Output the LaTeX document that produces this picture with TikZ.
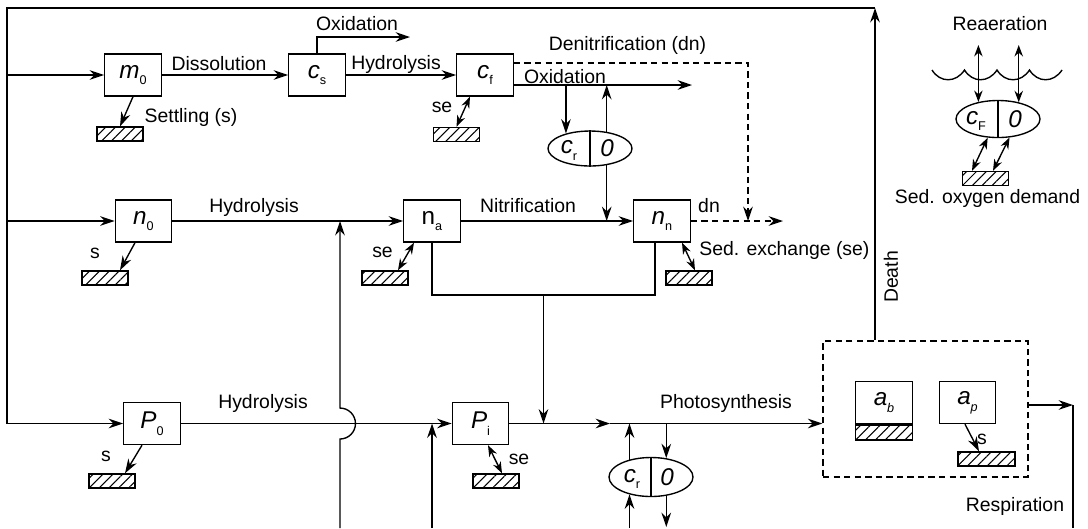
\documentclass[tikz,border=0pt]{standalone}
\usepackage{fontspec}
\setmainfont{Liberation Sans}
\usetikzlibrary{arrows.meta,positioning,calc,shapes.geometric,patterns.meta}
\tikzset{
  flowln/.style={-{Stealth[length=2.4mm,width=1.6mm]}, line width=0.65pt},
  plainln/.style={line width=0.65pt},
  dblln/.style={{Stealth[length=1.9mm,width=1.4mm]}-{Stealth[length=1.9mm,width=1.4mm]}, line width=0.65pt},
  dashln/.style={dash pattern=on 3pt off 2pt, line width=0.65pt},
  pool/.style={draw, line width=0.65pt, minimum width=0.94cm, minimum height=0.7cm,
    inner sep=0pt, font=\fontsize{11.5}{13}\selectfont},
  sedbox/.style={draw, line width=0.65pt, minimum width=0.77cm, minimum height=0.235cm,
    inner sep=0pt, pattern={Lines[angle=45,distance=3.3pt,line width=0.5pt]}},
  oxy/.style={ellipse, draw, line width=0.65pt, minimum width=1.4cm, inner sep=0pt},
  var/.style={font=\fontsize{11.5}{13}\selectfont, inner sep=0pt},
  lbl/.style={font=\fontsize{9.2}{11}\selectfont, inner sep=0pt, anchor=base},
}
\newcommand{\sv}[2]{#1\raisebox{-3.2pt}{\fontsize{6}{7}\selectfont #2}}

\begin{document}
\begin{tikzpicture}[x=0.16667cm, y=-0.16667cm]
    \useasboundingbox (0,0) rectangle (108.8,52.8);
    % pools
    \node[pool] (m0) at (13.3,7.5) {\sv{\textit{m}}{0}};
    \node[pool] (cs) at (31.7,7.5) {\sv{\textit{c}}{s}};
    \node[pool] (cf) at (48.5,7.5) {\sv{\textit{c}}{f}};
    \node[pool] (n0) at (14.35,22.1) {\sv{\textit{n}}{0}};
    \node[pool] (na) at (43.2,22.1) {\sv{n}{a}};
    \node[pool] (nn) at (66.2,22.1) {\sv{\textit{n}}{n}};
    \node[pool] (p0) at (15.2,42.35) {\sv{\textit{P}}{0}};
    \node[pool] (pi) at (48.05,42.35) {\sv{\textit{P}}{i}};
    % sediment
    \node[sedbox] (sm0) at (12,13.4) {};
    \node[sedbox] (scf) at (45.65,13.45) {};
    \node[sedbox] (sn0) at (10.5,27.8) {};
    \node[sedbox] (sna) at (38.5,27.8) {};
    \node[sedbox] (snn) at (68.9,27.8) {};
    \node[sedbox] (sp0) at (11.2,48.1) {};
    \node[sedbox] (spi) at (49.6,48.1) {};
    \node[sedbox] (scF) at (98.55,17.85) {};
    % oxygen ellipses
    \node[oxy, minimum height=0.583cm] (cr1) at (59,14.85) {};
    \draw[plainln] (cr1.north) -- (cr1.south);
    \node[var] (cr1c) at ($(cr1.center)+(-2.1,0.2)$) {\sv{\textit{c}}{r}};
    \node[var] (cr1o) at ($(cr1.center)+(1.7,0)$) {\textit{0}};
    \node[oxy, minimum height=0.65cm] (cr2) at (65.1,47.7) {};
    \draw[plainln] (cr2.north) -- (cr2.south);
    \node[var] (cr2c) at ($(cr2.center)+(-1.9,0.2)$) {\sv{\textit{c}}{r}};
    \node[var] (cr2o) at ($(cr2.center)+(1.6,0)$) {\textit{0}};
    \node[oxy, minimum height=0.617cm] (cF) at (99.8,11.9) {};
    \draw[plainln] (cF.north) -- (cF.south);
    \node[var] (cFc) at ($(cF.center)+(-2.2,0.2)$) {\sv{\textit{c}}{F}};
    \node[var] (cFo) at ($(cF.center)+(1.7,0)$) {\textit{0}};
    % algae
    \node[draw, dashln, minimum width=3.417cm, minimum height=2.267cm] (alg) at (92.55,40.9) {};
    \node[pool] (ab) at (88.4,40.25) {\sv{\textit{a}}{\textit{b}}};
    \node[sedbox, minimum width=0.94cm, minimum height=0.25cm, anchor=north] (sab) at (ab.south) {};
    \node[pool] (ap) at (96.75,40.25) {\sv{\textit{a}}{\textit{p}}};
    \node[sedbox, minimum width=0.95cm] (sap) at (98.65,45.9) {};
    \draw[flowln] ($(ap.south)+(-0.25,0)$) -- ($(sap.north)+(-0.75,0)$);
    \node[lbl] (s3) at (98.2,44.4) {s};
    % loading loop
    \coordinate (tl) at (0.7,0.8);
    \coordinate (tr) at (87.5,0.8);
    \draw[flowln] (alg.north -| tr) -- (tr);
    \node[lbl, anchor=center, rotate=90] (death) at (89.1,27.7) {Death};
    \draw[flowln] (tr) -- (tl) -- (tl |- p0.west) -- (p0.west);
    \draw[flowln] (tl |- m0.west) -- (m0.west);
    \draw[flowln] (tl |- n0.west) -- (n0.west);
    % carbon
    \draw[flowln] (m0.east) -- (cs.west);
    \node[lbl] (dis) at (21.9,7.0) {Dissolution};
    \draw[flowln] (m0.south) -- (sm0.north);
    \node[lbl] (settl) at (19.1,12.2) {Settling (s)};
    \draw[flowln] (cs.east) -- (cf.west);
    \node[lbl] (hyd1) at (39.6,6.9) {Hydrolysis};
    \coordinate (ox1) at (41,3.7);
    \draw[flowln] (cs.north) |- (ox1);
    \node[lbl] (oxl1) at (35.7,3.0) {Oxidation};
    \coordinate (ox2) at (69.2,8.5);
    \draw[flowln] ($(cf.east)+(0,1)$) -- (ox2);
    \node[lbl] (oxl2) at (56.5,8.3) {Oxidation};
    \draw[flowln] (ox2 -| cr1.148) -- (cr1.148);
    \draw[flowln] (cr1.45) -- (cr1.45 |- ox2);
    \draw[flowln] (cr1.315) -- (cr1.315 |- nn.west);
    \draw[dblln] ($(cf.south)+(-1.5,0)$) -- (scf.north);
    \node[lbl] (se1) at (44.2,11.2) {se};
    % denitrification
    \coordinate (dnc) at (74.8,0);
    \draw[dashln, -{Stealth[length=2.4mm,width=1.6mm]}] ($(cf.east)+(0,-1.2)$) -| (dnc |- nn.west);
    \node[lbl] (den) at (62.75,5.0) {Denitrification (dn)};
    \coordinate (dno) at (78.3,22.1);
    \draw[dashln, -{Stealth[length=2.4mm,width=1.6mm]}] (nn.east) -- (dno);
    \node[lbl] (dnl) at (70.9,21.2) {dn};
    % nitrogen
    \coordinate (b1) at (34,52.8);
    \coordinate (b2) at (43.2,52.8);
    \draw[flowln] (n0.east) -- (na.west);
    \node[lbl] (hyd2) at (25.4,21.2) {Hydrolysis};
    \draw[flowln] (b1) -- (34,43.9) arc[start angle=-90, end angle=90, radius=0.258cm] -- (b1 |- n0.east);
    \draw[flowln] ($(n0.south)+(-0.85,0)$) -- ($(sn0.north)+(1.5,0)$);
    \node[lbl] (s1) at (9.5,25.8) {s};
    \draw[flowln] (na.east) -- (nn.west);
    \node[lbl] (nit) at (52.8,21.2) {Nitrification};
    \draw[dblln] ($(na.south)+(-1.8,0)$) -- ($(sna.north)+(1.3,0)$);
    \node[lbl] (se2) at (38.25,25.7) {se};
    \draw[dblln] ($(nn.south)+(2,0)$) -- ($(snn.north)+(0.6,0)$);
    \node[lbl, anchor=base west] (sedex) at (69.9,25.5) {Sed. exchange (se)};
    \coordinate (brk) at (54.35,29.5);
    \draw[plainln] (na.south) |- (brk) -| ($(nn.south)+(-0.7,0)$);
    \draw[flowln] (brk) -- (brk |- pi.east);
    % phosphorus
    \draw[flowln] (p0.east) -- (pi.west);
    \node[lbl] (hyd3) at (26.3,40.8) {Hydrolysis};
    \draw[flowln] (b2) -- (b2 |- pi.west);
    \draw[flowln] ($(p0.south)+(-1,0)$) -- ($(sp0.north)+(1.3,0)$);
    \node[lbl] (s2) at (10.6,46.1) {s};
    \draw[dblln] ($(pi.south)+(0.75,0)$) -- ($(spi.north)+(0.6,0)$);
    \node[lbl] (se3) at (51.9,46.4) {se};
    \coordinate (ph1) at (61,42.35);
    \draw[flowln] (pi.east) -- (ph1);
    \draw[flowln] (ph1) -- (ph1 -| alg.west);
    \node[lbl] (pho) at (72.6,40.8) {Photosynthesis};
    \draw[flowln] (cr2.141) -- (cr2.141 |- ph1);
    \draw[flowln] (cr2.51 |- ph1) -- (cr2.51);
    \draw[flowln] (cr2.141 |- b2) -- (cr2.219);
    \draw[flowln] (cr2.309) -- ($(cr2.309 |- b2)+(0,-0.1)$);
    % respiration
    \coordinate (rsp) at (107.3,40.5);
    \draw[flowln] (rsp -| alg.east) -- (rsp);
    \draw[plainln] (rsp) -- (rsp |- b2);
    \node[lbl] (resp) at (101.5,51.1) {Respiration};
    % reaeration and SOD
    \coordinate (ra) at (0,4.5);
    \draw[dblln] (cF.139) -- (cF.139 |- ra);
    \draw[dblln] (cF.39) -- (cF.39 |- ra);
    \draw[plainln] (93.2,7.0) .. controls (94.0,8.3) and (95.6,8.3) .. (96.45,7.0)
      .. controls (97.25,8.3) and (98.85,8.3) .. (99.7,7.0)
      .. controls (100.5,8.3) and (102.1,8.3) .. (102.95,7.0)
      .. controls (103.75,8.3) and (105.35,8.3) .. (106.2,7.0);
    \node[lbl] (rea) at (100,3.0) {Reaeration};
    \draw[dblln] (cF.241) -- ($(scF.north)+(-1.35,0)$);
    \draw[dblln] (cF.302) -- ($(scF.north)+(0.75,0)$);
    \node[lbl] (sod) at (98.75,20.3) {Sed. oxygen demand};
  \end{tikzpicture}
\end{document}
